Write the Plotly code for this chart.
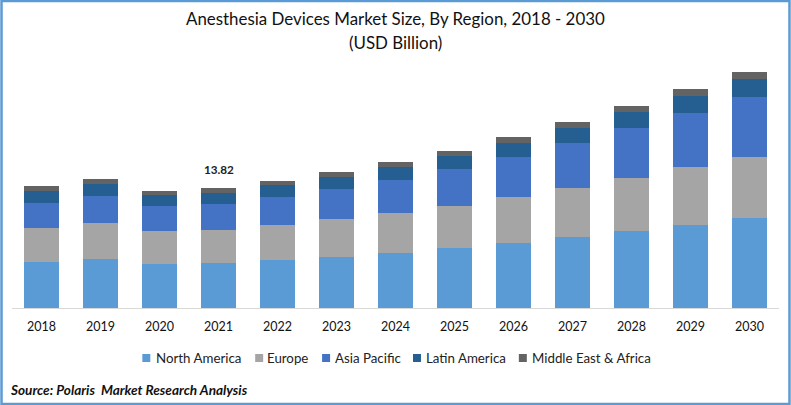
import plotly.graph_objects as go

years = ["2018","2019","2020","2021","2022","2023","2024","2025","2026","2027","2028","2029","2030"]
north_america = [5.30,5.64,5.07,5.18,5.53,5.87,6.33,6.91,7.49,8.18,8.87,9.56,10.36]
europe = [3.92,4.15,3.80,3.80,4.03,4.38,4.61,4.84,5.30,5.64,6.10,6.68,7.03]
asia_pacific = [2.88,3.11,2.88,2.99,3.22,3.45,3.80,4.26,4.61,5.18,5.76,6.22,6.91]
latin_america = [1.38,1.38,1.27,1.27,1.38,1.38,1.50,1.50,1.61,1.73,1.84,1.96,2.07]
mea = [0.58,0.58,0.46,0.58,0.46,0.58,0.58,0.58,0.69,0.69,0.69,0.81,0.81]
series = [("North America", north_america, "#5B9BD5"), ("Europe", europe, "#A5A5A5"),
          ("Asia Pacific", asia_pacific, "#4472C4"), ("Latin America", latin_america, "#255E91"),
          ("Middle East & Africa", mea, "#636363")]
# key layout: left edge of each swatch and of each label, in page pixels
key_swatch_px = [142, 255, 322, 413, 519]
key_label_px = [155, 266, 334, 425, 531]

FONT = "Lato"
W, H = 791, 405
L, T, PW, PH = 11.5, 40, 768, 268
px = lambda x: (x - L) / PW
py = lambda y: (T + PH - y) / PH

fig = go.Figure()
for name, vals, col in series:
    fig.add_bar(x=years, y=vals, name=name, marker=dict(color=col, line_width=0), showlegend=False)

annotations = [
    dict(text="Anesthesia Devices Market Size, By Region, 2018 - 2030",
         xref="paper", yref="paper", x=0.5, y=py(18), yanchor="middle", showarrow=False,
         font=dict(size=16.9, family=FONT, color="#111111")),
    dict(text="(USD Billion)",
         xref="paper", yref="paper", x=0.5, y=py(43), yanchor="middle", showarrow=False,
         font=dict(size=16.9, family=FONT, color="#111111")),
    dict(text="<b>13.82</b>", x=years.index("2021"), y=13.82, yanchor="bottom", yshift=10, showarrow=False,
         font=dict(size=11.7, family=FONT, color="#222222")),
    dict(text="<b><i>Source: Polaris  Market Research Analysis</i></b>", xref="paper", yref="paper",
         x=0, xanchor="left", xshift=-4, y=py(390), yanchor="middle", showarrow=False,
         font=dict(size=13.6, family=FONT, color="#111111")),
]
shapes = [dict(type="rect", xref="paper", yref="paper",
               x0=px(1), x1=px(790), y0=py(404), y1=py(1),
               line=dict(color="#5B9BD5", width=2.5), fillcolor="rgba(0,0,0,0)", layer="above")]
for (name, _, col), sx, lx in zip(series, key_swatch_px, key_label_px):
    annotations.append(dict(text=name, xref="paper", yref="paper", x=px(lx), xanchor="left", xshift=-1,
                            y=py(358), yanchor="middle", showarrow=False,
                            font=dict(size=13.3, family=FONT, color="#222222")))
    shapes.append(dict(type="rect", xref="paper", yref="paper", x0=px(sx), x1=px(sx + 8),
                       y0=py(362), y1=py(354), fillcolor=col, line_width=0))

fig.update_layout(
    width=W, height=H, barmode="stack", bargap=0.41, autosize=False,
    margin=dict(l=L, r=W - L - PW, t=T, b=H - T - PH),
    paper_bgcolor="white", plot_bgcolor="white",
    font=dict(family=FONT, color="#111111", size=13),
    showlegend=False,
    xaxis=dict(type="category", showline=True, linecolor="#D9D9D9", linewidth=1, ticks="",
               tickfont=dict(size=12.5), showgrid=False, ticklabelstandoff=7),
    yaxis=dict(visible=False, range=[0, 268/8.683], showgrid=False, zeroline=False),
    annotations=annotations,
    shapes=shapes,
)
fig.write_html("out.html", config={"displayModeBar": False},
               post_script="document.body.style.margin='0';document.documentElement.style.overflow='hidden';")
